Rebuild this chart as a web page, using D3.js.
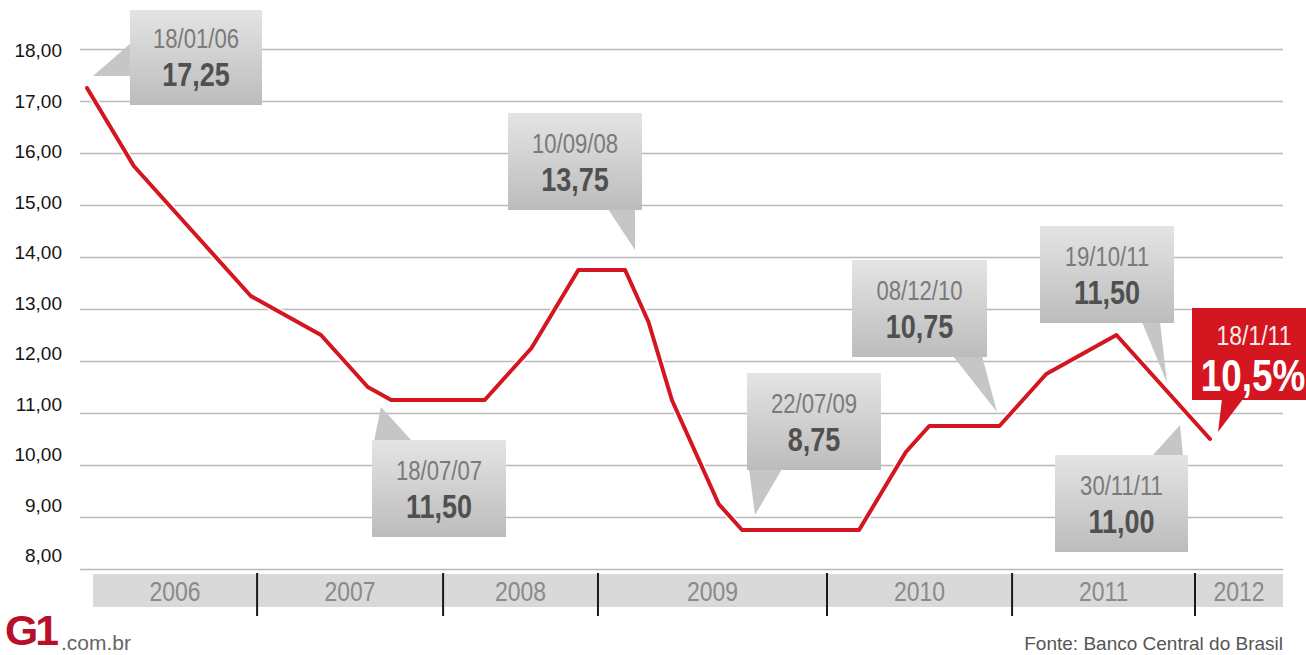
<!DOCTYPE html>
<html>
<head>
<meta charset="utf-8" />
<title>Selic</title>
<script src="https://d3js.org/d3.v7.min.js"></script>
<style type="text/css">
body { margin: 0; background: #fff; }
text { font-family: "Liberation Sans", Arial, sans-serif; }
.grid line { stroke: #b8b8b8; stroke-width: 1.6px; }
.grid path { display: none; }
.ylabel { font-size: 19px; fill: #151515; text-anchor: end; }
.year { font-size: 28px; fill: #8a8a8a; text-anchor: middle; }
.cdate { font-size: 27px; fill: #7a7a7a; text-anchor: middle; }
.cval { font-size: 33px; font-weight: bold; fill: #505050; text-anchor: middle; }
</style>
</head>
<body>
<div id="chart"></div>
<script>
// COPOM meetings and Selic target (%)
var dates = ["18/01/06","08/03/06","19/04/06","31/05/06","19/07/06","30/08/06","18/10/06","29/11/06",
  "24/01/07","07/03/07","18/04/07","06/06/07","18/07/07","05/09/07","17/10/07","05/12/07",
  "23/01/08","05/03/08","16/04/08","04/06/08","23/07/08","10/09/08","29/10/08","10/12/08",
  "21/01/09","11/03/09","29/04/09","10/06/09","22/07/09","02/09/09","21/10/09","09/12/09",
  "27/01/10","17/03/10","28/04/10","09/06/10","21/07/10","01/09/10","20/10/10","08/12/10",
  "19/01/11","02/03/11","20/04/11","08/06/11","20/07/11","31/08/11","19/10/11","30/11/11",
  "18/01/12"];
var values = [17.25,16.50,15.75,15.25,14.75,14.25,13.75,13.25,
  13.00,12.75,12.50,12.00,11.50,11.25,11.25,11.25,
  11.25,11.25,11.75,12.25,13.00,13.75,13.75,13.75,
  12.75,11.25,10.25,9.25,8.75,8.75,8.75,8.75,
  8.75,8.75,9.50,10.25,10.75,10.75,10.75,10.75,
  11.25,11.75,12.00,12.25,12.50,12.00,11.50,11.00,
  10.50];

var yTicks = [8,9,10,11,12,13,14,15,16,17,18];
var years = ["2006","2007","2008","2009","2010","2011","2012"];
// year band edges, in meeting-index units
var yearEdges = [0.26, 7.27, 15.22, 21.84, 31.63, 39.54, 47.36, 51.12];

var calloutDates = ["18/01/06","18/07/07","10/09/08","22/07/09","08/12/10","19/10/11","30/11/11"];
var calloutValues = ["17,25","11,50","13,75","8,75","10,75","11,50","11,00"];
var lastDate = "18/1/11";
var lastValue = "10,5%";

// callout box layout (px)
var boxes = [
  { x: 130, y: 10, w: 132, h: 95, tail: [[131,43],[93,76],[131,76]] },
  { x: 372, y: 440, w: 134, h: 97, tail: [[374,441],[381,407],[412,441]] },
  { x: 508, y: 113, w: 134, h: 97, tail: [[608,209],[635,250],[635,209]] },
  { x: 747, y: 373, w: 134, h: 97, tail: [[749,469],[755,515],[782,469]] },
  { x: 852, y: 260, w: 135, h: 97, tail: [[953,356],[997,412],[982,356]] },
  { x: 1040, y: 226, w: 134, h: 97, tail: [[1142,322],[1167,383],[1160,322]] },
  { x: 1055, y: 455, w: 133, h: 97, tail: [[1152,456],[1180,425],[1183,456]] }
];
var redBox = { x: 1192, y: 308, w: 120, h: 92, tail: [[1222,399],[1218,432],[1243,399]] };

var W = 1306, H = 655;
var left = 80, right = 1283;

var svg = d3.select("#chart").append("svg")
  .attr("width", W)
  .attr("height", H);

var defs = svg.append("defs");
var grad = defs.append("linearGradient")
  .attr("id", "boxgrad")
  .attr("x1", 0).attr("y1", 0).attr("x2", 0).attr("y2", 1);
grad.append("stop").attr("offset", "0%").attr("stop-color", "#e4e4e4");
grad.append("stop").attr("offset", "100%").attr("stop-color", "#bcbcbc");

var x = d3.scalePoint()
  .domain(dates)
  .range([87, 1210]);

var xi = d3.scaleLinear()
  .domain([0, dates.length - 1])
  .range(x.range());

var y = d3.scaleLinear()
  .domain([8, 18])
  .range([569, 49]);

// tick labels drift a little above the grid toward the bottom
var yLab = d3.scaleLinear()
  .domain(y.domain())
  .range([562, 57]);

svg.append("g")
  .attr("class", "grid")
  .attr("transform", "translate(" + left + ",0)")
  .call(d3.axisLeft(y).tickValues(yTicks).tickSize(-(right - left)).tickFormat(""));

svg.selectAll(".ylabel")
  .data(yTicks)
  .enter().append("text")
  .attr("class", "ylabel")
  .attr("x", 62)
  .attr("y", function(d) { return yLab(d); })
  .text(function(d) { return d3.format(".2f")(d).replace(".", ","); });

// year band
var band = svg.append("g");
band.selectAll("rect")
  .data(years)
  .enter().append("rect")
  .attr("x", function(d, i) { return xi(yearEdges[i]); })
  .attr("y", 574)
  .attr("width", function(d, i) { return xi(yearEdges[i + 1]) - xi(yearEdges[i]); })
  .attr("height", 33)
  .attr("fill", "#d9d9d9");

band.selectAll("text")
  .data(years)
  .enter().append("text")
  .attr("class", "year")
  .attr("transform", function(d, i) {
    var cx = (xi(yearEdges[i]) + xi(yearEdges[i + 1])) / 2;
    return "translate(" + cx + ",601) scale(0.82,1)";
  })
  .text(function(d) { return d; });

band.selectAll("line")
  .data(yearEdges.slice(1, -1))
  .enter().append("line")
  .attr("x1", function(d) { return xi(d); })
  .attr("x2", function(d) { return xi(d); })
  .attr("y1", 573)
  .attr("y2", 616)
  .attr("stroke", "#1a1a1a")
  .attr("stroke-width", 2);

// callouts
var tailPath = function(t) { return "M" + t.map(function(p) { return p.join(","); }).join("L") + "Z"; };

var callout = svg.selectAll(".callout")
  .data(boxes)
  .enter().append("g")
  .attr("class", "callout");

callout.append("path")
  .attr("d", function(d) { return tailPath(d.tail); })
  .attr("fill", "#c6c6c6");

callout.append("rect")
  .attr("x", function(d) { return d.x; })
  .attr("y", function(d) { return d.y; })
  .attr("width", function(d) { return d.w; })
  .attr("height", function(d) { return d.h; })
  .attr("fill", "url(#boxgrad)");

callout.append("text")
  .attr("class", "cdate")
  .attr("transform", function(d) { return "translate(" + (d.x + d.w / 2) + "," + (d.y + d.h - 57) + ") scale(0.82,1)"; })
  .text(function(d, i) { return calloutDates[i]; });

callout.append("text")
  .attr("class", "cval")
  .attr("transform", function(d) { return "translate(" + (d.x + d.w / 2) + "," + (d.y + d.h - 19) + ") scale(0.82,1)"; })
  .text(function(d, i) { return calloutValues[i]; });

// red line
var line = d3.line()
  .x(function(d) { return x(d); })
  .y(function(d, i) { return y(values[i]); });

svg.append("path")
  .datum(dates)
  .attr("d", line)
  .attr("fill", "none")
  .attr("stroke", "#fff")
  .attr("stroke-opacity", 0.8)
  .attr("stroke-width", 7.5)
  .attr("stroke-linejoin", "round");

svg.append("path")
  .datum(dates)
  .attr("d", line)
  .attr("fill", "none")
  .attr("stroke", "#d3161f")
  .attr("stroke-width", 4)
  .attr("stroke-linejoin", "round")
  .attr("stroke-linecap", "round");

// latest value
var red = svg.append("g");
red.append("path")
  .attr("d", tailPath(redBox.tail))
  .attr("fill", "#d3161f");
red.append("rect")
  .attr("x", redBox.x).attr("y", redBox.y)
  .attr("width", redBox.w).attr("height", redBox.h)
  .attr("fill", "#d3161f");
red.append("text")
  .attr("transform", "translate(" + (redBox.x + 62) + "," + (redBox.y + 37) + ") scale(0.82,1)")
  .attr("text-anchor", "middle")
  .style("font-size", "28px")
  .style("fill", "#fbe9e9")
  .text(lastDate);
red.append("text")
  .attr("transform", "translate(" + (redBox.x + 61) + "," + (redBox.y + 83) + ") scale(0.82,1)")
  .attr("text-anchor", "middle")
  .style("font-size", "45px")
  .style("font-weight", "bold")
  .style("fill", "#fff")
  .text(lastValue);

// footer
svg.append("text")
  .attr("transform", "translate(5,645) scale(1.02,1)")
  .style("font-size", "42px")
  .style("font-weight", "900")
  .style("letter-spacing", "-3px")
  .style("fill", "#b8102a")
  .text("G1");
svg.append("text")
  .attr("x", 61)
  .attr("y", 650)
  .style("font-size", "21px")
  .style("fill", "#666")
  .text(".com.br");
svg.append("text")
  .attr("x", right)
  .attr("y", 650)
  .attr("text-anchor", "end")
  .style("font-size", "19px")
  .style("fill", "#555")
  .text("Fonte: Banco Central do Brasil");
</script>
</body>
</html>
